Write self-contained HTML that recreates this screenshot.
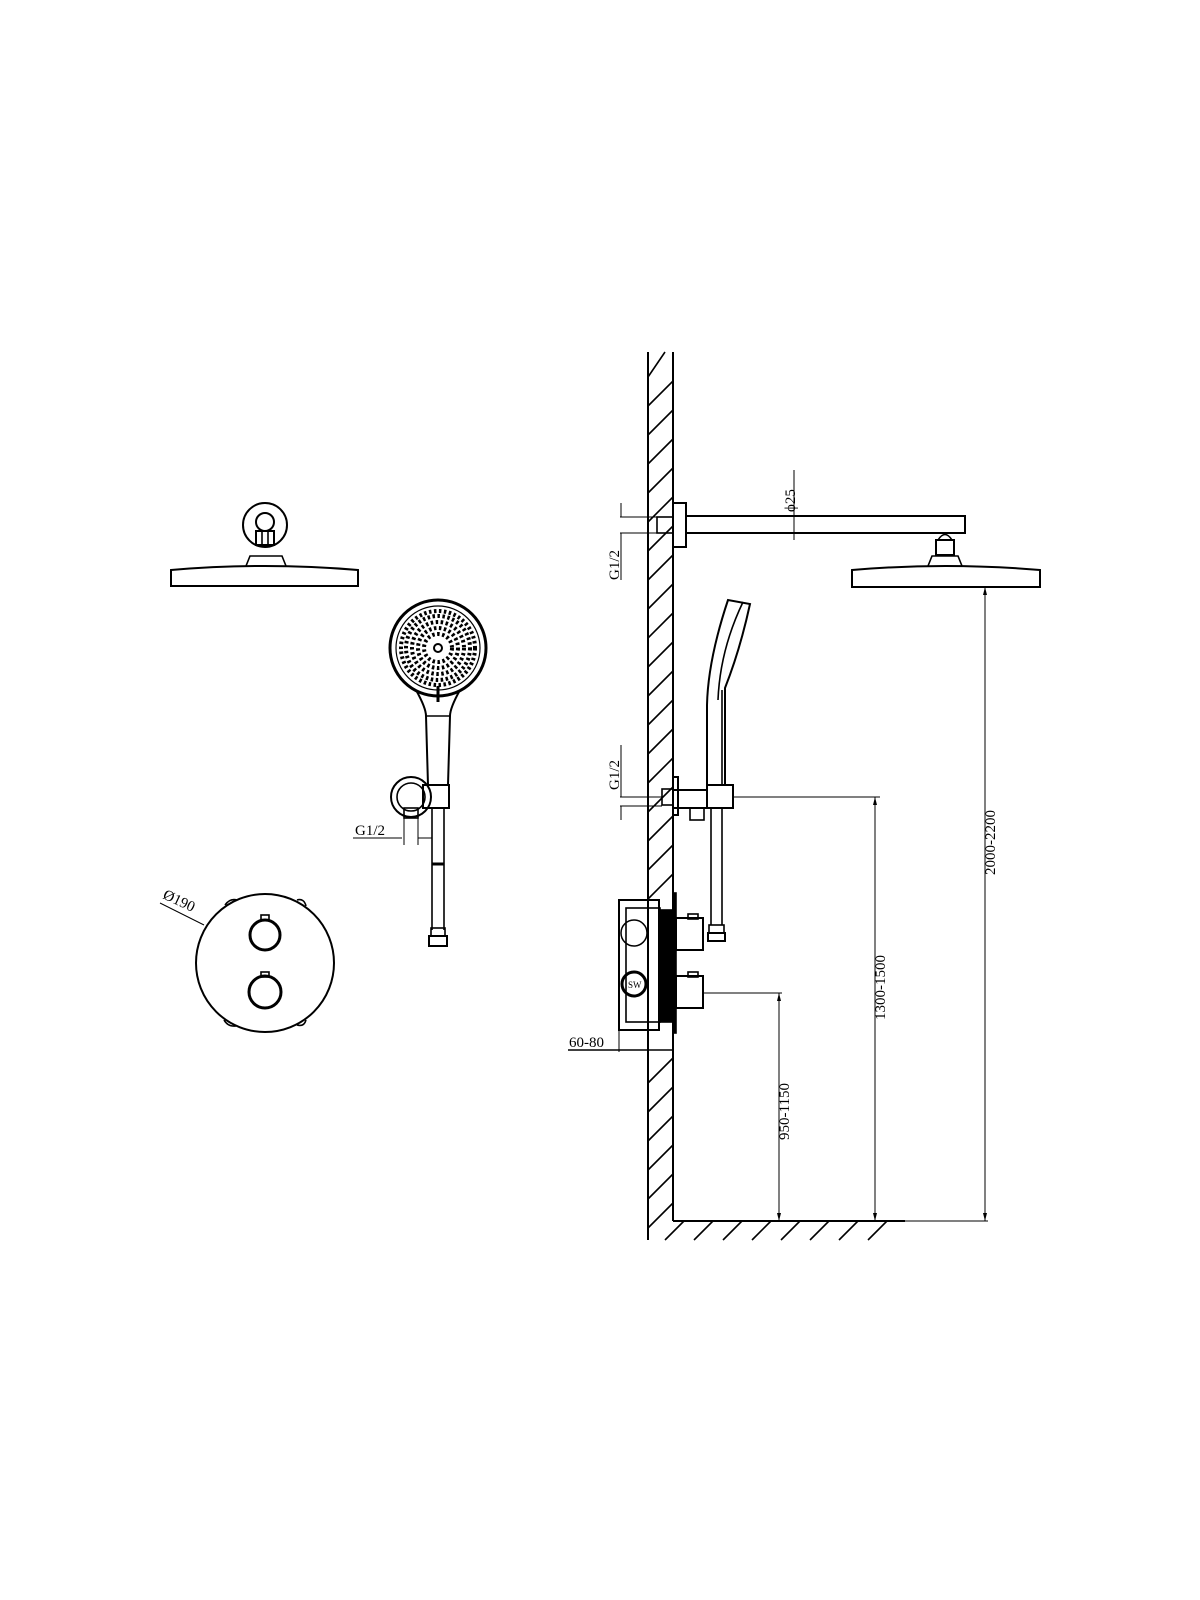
<!DOCTYPE html>
<html><head><meta charset="utf-8"><style>html,body{margin:0;background:#fff}svg{display:block}</style></head><body>
<svg width="1200" height="1600" viewBox="0 0 1200 1600" xmlns="http://www.w3.org/2000/svg" fill="none" stroke="#000" stroke-width="1.6" font-family="Liberation Serif, serif">
<!-- Left: rain head -->
<circle cx="265" cy="525" r="22" stroke-width="2"/>
<circle cx="265" cy="522" r="9" stroke-width="2"/>
<rect x="256" y="531" width="18" height="14" stroke-width="2"/>
<line x1="262" y1="531" x2="262" y2="545"/><line x1="268" y1="531" x2="268" y2="545"/>
<path d="M246 566 L250 556 L282 556 L286 566"/>
<path d="M171 570 Q265 562 358 570 L358 586 L171 586 Z" stroke-width="2"/>
<!-- hand shower front -->
<circle cx="438" cy="648" r="48" stroke-width="3"/>
<circle cx="438" cy="648" r="42" stroke-width="1.2"/>
<g fill="#000" stroke="none">
<circle cx="438" cy="648" r="4" fill="none" stroke="#000" stroke-width="2"/>
</g>
<g stroke="#000" stroke-width="4" stroke-dasharray="2.5 2.5">
<circle cx="438" cy="648" r="14"/><circle cx="438" cy="648" r="20"/><circle cx="438" cy="648" r="26"/><circle cx="438" cy="648" r="32"/><circle cx="438" cy="648" r="37"/>
</g>
<path d="M416 690 Q426 708 426 716 L428 785 L448 785 L450 716 Q450 708 460 690" stroke-width="2"/>
<line x1="426" y1="716" x2="450" y2="716"/>
<line x1="438" y1="686" x2="438" y2="702" stroke-width="3"/>
<circle cx="411" cy="797" r="20" stroke-width="2"/>
<circle cx="411" cy="797" r="14"/>
<rect x="423" y="785" width="26" height="23" stroke-width="2"/>
<rect x="404" y="808" width="14" height="10"/>
<line x1="432" y1="808" x2="432" y2="930"/><line x1="444" y1="808" x2="444" y2="930"/>
<line x1="432" y1="864" x2="444" y2="864" stroke-width="3"/>
<rect x="431" y="928" width="14" height="8"/><rect x="429" y="936" width="18" height="10" stroke-width="2"/>
<text x="355" y="835" font-size="15" fill="#000" stroke="none">G1/2</text>
<line x1="353" y1="838" x2="402" y2="838" stroke-width="1"/>
<line x1="404" y1="818" x2="404" y2="845" stroke-width="1"/><line x1="418" y1="818" x2="418" y2="845" stroke-width="1"/>
<line x1="418" y1="838" x2="432" y2="838" stroke-width="1"/>
<!-- valve plate -->
<circle cx="265" cy="963" r="69" stroke-width="2"/>
<circle cx="265" cy="935" r="15" stroke-width="3"/>
<circle cx="265" cy="992" r="16" stroke-width="3"/>
<rect x="261" y="915" width="8" height="5"/><rect x="261" y="972" width="8" height="5"/>
<path d="M225 905 Q230 898 237 900"/><path d="M297 900 Q304 898 306 906"/>
<path d="M224 1020 Q228 1027 236 1026"/><path d="M297 1025 Q304 1027 306 1020"/>
<text x="0" y="0" font-size="15" fill="#000" stroke="none" transform="translate(162,898) rotate(25)">Ø190</text>
<line x1="160" y1="903" x2="204" y2="925" stroke-width="1"/>
<!-- wall -->
<line x1="648" y1="352" x2="648" y2="1240" stroke-width="2"/>
<line x1="673" y1="352" x2="673" y2="1221" stroke-width="2"/>
<line x1="673" y1="1221" x2="905" y2="1221" stroke-width="2"/>
<g stroke-width="1.6">
<line x1="648" y1="377" x2="665" y2="352"/>
<line x1="648" y1="406" x2="673" y2="381"/><line x1="648" y1="435" x2="673" y2="410"/><line x1="648" y1="464" x2="673" y2="439"/><line x1="648" y1="493" x2="673" y2="468"/><line x1="648" y1="522" x2="673" y2="497"/><line x1="648" y1="551" x2="673" y2="526"/><line x1="648" y1="580" x2="673" y2="555"/><line x1="648" y1="609" x2="673" y2="584"/><line x1="648" y1="638" x2="673" y2="613"/><line x1="648" y1="667" x2="673" y2="642"/><line x1="648" y1="696" x2="673" y2="671"/><line x1="648" y1="725" x2="673" y2="700"/><line x1="648" y1="754" x2="673" y2="729"/><line x1="648" y1="783" x2="673" y2="758"/><line x1="648" y1="812" x2="673" y2="787"/><line x1="648" y1="841" x2="673" y2="816"/><line x1="648" y1="870" x2="673" y2="845"/><line x1="648" y1="899" x2="673" y2="874"/><line x1="648" y1="1083" x2="673" y2="1058"/><line x1="648" y1="1112" x2="673" y2="1087"/><line x1="648" y1="1141" x2="673" y2="1116"/><line x1="648" y1="1170" x2="673" y2="1145"/><line x1="648" y1="1199" x2="673" y2="1174"/><line x1="648" y1="1228" x2="673" y2="1203"/>
<line x1="665" y1="1240" x2="684" y2="1221"/><line x1="694" y1="1240" x2="713" y2="1221"/><line x1="723" y1="1240" x2="742" y2="1221"/><line x1="752" y1="1240" x2="771" y2="1221"/><line x1="781" y1="1240" x2="800" y2="1221"/><line x1="810" y1="1240" x2="829" y2="1221"/><line x1="839" y1="1240" x2="858" y2="1221"/><line x1="868" y1="1240" x2="887" y2="1221"/>
</g>
<!-- arm and head -->
<rect x="657" y="517" width="16" height="16"/>
<rect x="673" y="503" width="13" height="44" stroke-width="2"/>
<rect x="686" y="516" width="279" height="17" stroke-width="2"/>
<path d="M938 540 Q945 529 952 540"/>
<rect x="936" y="540" width="18" height="15" stroke-width="2"/>
<path d="M928 566 L932 556 L958 556 L962 566"/>
<path d="M852 570 Q945 562 1040 570 L1040 587 L852 587 Z" stroke-width="2"/>
<text x="0" y="0" font-size="15" fill="#000" stroke="none" transform="translate(795,512) rotate(-90)">ϕ25</text>
<line x1="794" y1="470" x2="794" y2="540" stroke-width="1"/>
<line x1="620" y1="517" x2="657" y2="517" stroke-width="1"/><line x1="620" y1="533" x2="657" y2="533" stroke-width="1"/>
<line x1="621" y1="503" x2="621" y2="517" stroke-width="1"/><line x1="621" y1="533" x2="621" y2="580" stroke-width="1"/>
<text x="0" y="0" font-size="15" fill="#000" stroke="none" transform="translate(619,580) rotate(-90)">G1/2</text>
<!-- hand shower side -->
<path d="M707 785 L707 705 Q708 660 728 600 L750 604 Q740 650 725 688 L725 785" stroke-width="2"/>
<path d="M718 700 Q720 650 743 602"/>
<path d="M722 690 L722 785"/>
<rect x="707" y="785" width="26" height="23" stroke-width="2"/>
<rect x="673" y="790" width="34" height="18" stroke-width="2"/>
<rect x="673" y="777" width="5" height="38" stroke-width="2"/>
<rect x="662" y="789" width="11" height="16"/>
<rect x="690" y="808" width="14" height="12"/>
<line x1="711" y1="808" x2="711" y2="925"/><line x1="722" y1="808" x2="722" y2="925"/>
<rect x="709" y="925" width="15" height="8"/><rect x="708" y="933" width="17" height="8" stroke-width="2"/>
<line x1="620" y1="797" x2="662" y2="797" stroke-width="1"/><line x1="620" y1="806" x2="662" y2="806" stroke-width="1"/>
<line x1="621" y1="745" x2="621" y2="797" stroke-width="1"/><line x1="621" y1="806" x2="621" y2="820" stroke-width="1"/>
<text x="0" y="0" font-size="15" fill="#000" stroke="none" transform="translate(619,790) rotate(-90)">G1/2</text>
<!-- valve box -->
<rect x="619" y="900" width="40" height="130" stroke-width="2"/>
<rect x="626" y="908" width="34" height="114"/>
<circle cx="634" cy="933" r="13" stroke-width="1.5"/>
<circle cx="634" cy="984" r="12" stroke-width="3"/>
<text x="628" y="988" font-size="9" fill="#000" stroke="none">SW</text>
<rect x="659" y="910" width="14" height="112" fill="#000"/>
<rect x="673" y="893" width="3" height="140" fill="#000"/>
<rect x="676" y="918" width="27" height="32" stroke-width="2"/>
<rect x="676" y="976" width="27" height="32" stroke-width="2"/>
<rect x="688" y="914" width="10" height="5"/><rect x="688" y="972" width="10" height="5"/>
<line x1="568" y1="1050" x2="673" y2="1050" stroke-width="1.5"/>
<line x1="619" y1="1030" x2="619" y2="1052" stroke-width="1"/>
<text x="569" y="1047" font-size="15" fill="#000" stroke="none">60-80</text>
<!-- dimensions -->
<g stroke-width="1">
<line x1="703" y1="993" x2="782" y2="993"/><line x1="779" y1="993" x2="779" y2="1221"/>
<line x1="733" y1="797" x2="880" y2="797"/><line x1="875" y1="797" x2="875" y2="1221"/>
<line x1="985" y1="587" x2="985" y2="1221"/>
<line x1="905" y1="1221" x2="988" y2="1221"/>
</g>
<g fill="#000" stroke="none">
<path d="M779 993 l-2 8 h4z"/><path d="M779 1221 l-2 -8 h4z"/>
<path d="M875 797 l-2 8 h4z"/><path d="M875 1221 l-2 -8 h4z"/>
<path d="M985 587 l-2 8 h4z"/><path d="M985 1221 l-2 -8 h4z"/>
</g>
<text x="0" y="0" font-size="15" fill="#000" stroke="none" transform="translate(789,1140) rotate(-90)">950-1150</text>
<text x="0" y="0" font-size="15" fill="#000" stroke="none" transform="translate(885,1020) rotate(-90)">1300-1500</text>
<text x="0" y="0" font-size="15" fill="#000" stroke="none" transform="translate(995,875) rotate(-90)">2000-2200</text>
</svg>
</body></html>
